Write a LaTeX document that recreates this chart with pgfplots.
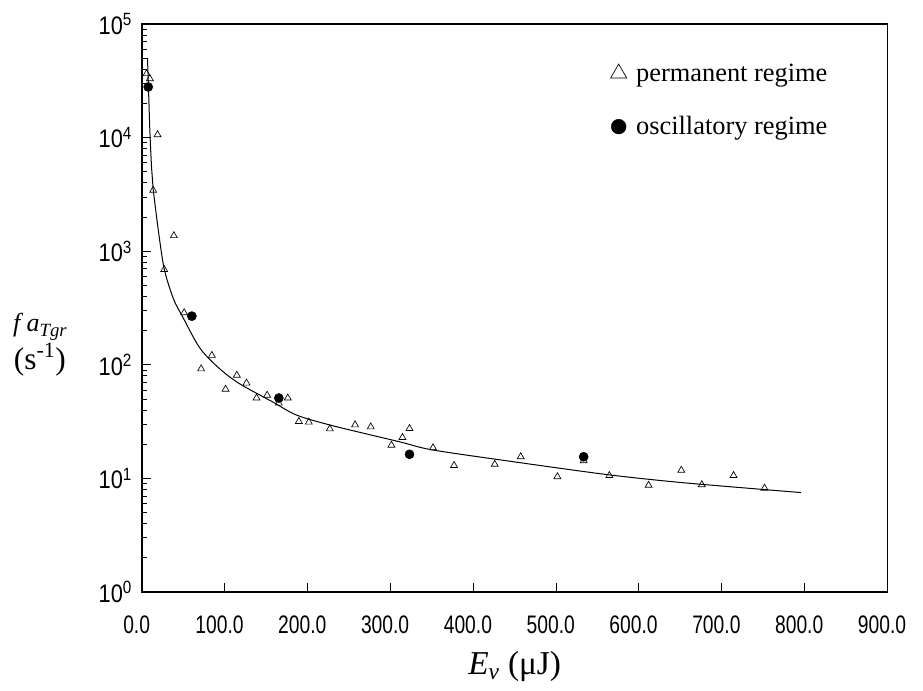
\documentclass[border=0pt]{standalone}
\usepackage{fontspec}
\setmainfont{Liberation Serif}
\setsansfont{Liberation Sans}
\usepackage{pgfplots}
\pgfplotsset{compat=1.18}
\newcommand{\tl}[1]{\scalebox{0.76}[1]{#1}}
\newcommand{\yl}[1]{\scalebox{0.86}[1]{10\textsuperscript{#1}}}
\begin{document}
\begin{tikzpicture}[x=1pt,y=1pt]
\useasboundingbox (-106.5,-74.25) rectangle (585.75,444);
\begin{axis}[
  scale only axis, width=559pt, height=426pt, at={(0,0)}, anchor=south west,
  ymode=log, xmin=0, xmax=900, ymin=1, ymax=100000,
  axis line style={line width=1pt},
  tick pos=left, tick align=inside,
  major tick length=7pt, minor tick length=4pt,
  every tick/.style={black, line width=0.6pt},
  xtick={0,100,200,300,400,500,600,700,800,900},
  xticklabels={\tl{0.0},\tl{100.0},\tl{200.0},\tl{300.0},\tl{400.0},\tl{500.0},\tl{600.0},\tl{700.0},\tl{800.0},\tl{900.0}},
  ytick={1,10,100,1000,10000,100000},
  yticklabels={\yl{0},\yl{1},\yl{2},\yl{3},\yl{4},\yl{5}},
  xticklabel style={font=\sffamily\fontsize{19}{21}\selectfont, xshift=-4pt, yshift=-14pt},
  yticklabel style={font=\sffamily\fontsize{19}{21}\selectfont, xshift=-4pt},
  xlabel={\textit{E}\textsubscript{\textit{v}} (μJ)},
  xlabel style={font=\fontsize{25}{27}\selectfont, yshift=-7pt},
  ylabel={\fontsize{19.5}{21}\selectfont\textit{f a}\raisebox{-4pt}{\fontsize{14}{14}\selectfont\textit{Tgr}}\\[1pt](s\textsuperscript{-1})},
  every axis y label/.style={at={(rel axis cs:-0.137,0.435)}, anchor=center, align=center, font=\fontsize{23.5}{25}\selectfont},
  legend style={at={(rel axis cs:0.623,0.94)}, anchor=north west, draw=none, fill=none, font=\fontsize{19.8}{22}\selectfont, row sep=21pt, /tikz/every odd column/.style={column sep=5pt}},
  legend cell align=left,
]
\addplot[black, line width=0.75pt, forget plot] coordinates {
(6.6,50000) (7.2,38000) (7.8,28000) (8.5,19000) (9.3,12500) (10.2,8600) (11.5,5500) (13.5,3500)
};
\addplot[black, line width=0.75pt, smooth, tension=0.5, forget plot] coordinates {
(13.5,3500) (19.6,1550) (26.8,700) (38,380) (49,265) (70,140) (94,92) (118,68) (158,47) (187,36) (231,29) (311,21) (351,17.8) (452,13.9) (553,11.0) (613,9.8) (673,8.9) (796,7.5)
};
\addplot[only marks, mark=triangle, mark size=3pt, mark options={line width=0.5pt, fill=white}, forget plot] coordinates {
(5.6,36600) (9.5,33000) (18.8,10600) (13.5,3440) (38.5,1370) (26.8,689) (50.9,287) (84.4,121) (71.4,92) (114.5,81) (126.2,69) (100.9,61) (138.3,51) (151.1,54) (165.2,46) (176,51) (189.4,31.7) (201.4,31.3) (226.8,27.3) (257.3,29.6) (276.2,28.4) (301.2,19.6) (314.5,22.9) (323,27.5) (351.4,18.6) (376.8,13.0) (425.9,13.3) (457.3,15.5) (501.6,10.35) (533.3,14.3) (564.3,10.6) (611.7,8.7) (651.2,11.8) (676,8.8) (714.3,10.6) (751.7,8.2)
};
\addplot[only marks, mark=*, mark size=3.4pt, black, forget plot] coordinates {
(7.5,27900) (60.2,268) (165.2,51) (323,16.3) (533.3,15.5)
};
\addlegendimage{only marks, mark=triangle, mark size=7pt, mark options={line width=0.5pt}}
\addlegendentry{permanent regime}
\addlegendimage{only marks, mark=*, mark size=5.5pt, black}
\addlegendentry{oscillatory regime}
\end{axis}
\end{tikzpicture}
\end{document}
